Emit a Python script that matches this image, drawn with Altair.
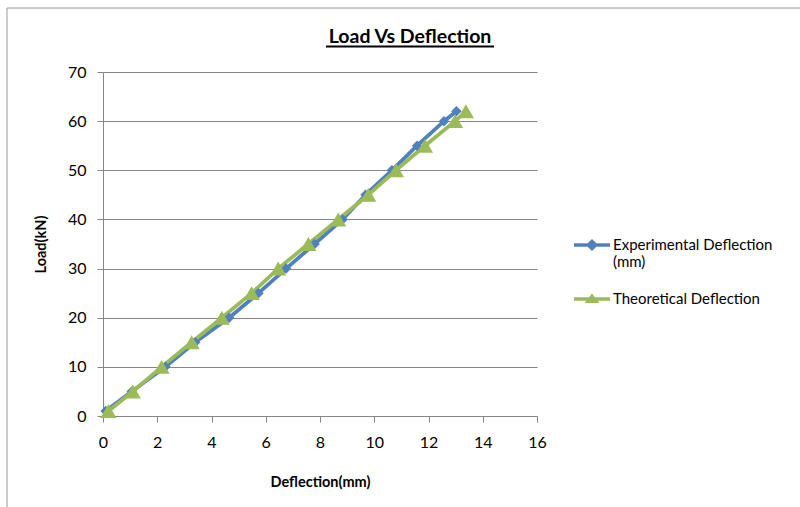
import altair as alt
import pandas as pd

# Measured load steps and the matching deflections for each series
load_kn = [1, 5, 10, 15, 20, 25, 30, 35, 40, 45, 50, 55, 60, 62]
experimental_mm = [0.1, 1.06, 2.3, 3.4, 4.65, 5.73, 6.75, 7.8, 8.83, 9.68, 10.65, 11.58, 12.57, 13.03]
theoretical_mm = [0.2, 1.1, 2.16, 3.27, 4.38, 5.48, 6.46, 7.57, 8.67, 9.78, 10.8, 11.87, 12.98, 13.38]

series_names = ["Experimental Deflection (mm)", "Theoretical Deflection"]
series_colors = ["#4F81BD", "#9BBB59"]
x_ticks = [0, 2, 4, 6, 8, 10, 12, 14, 16]
y_ticks = [0, 10, 20, 30, 40, 50, 60, 70]
chart_title = "Load Vs Deflection"

FONT = "Lato"
GRID = "#868686"

rows = []
for name, defl in zip(series_names, [experimental_mm, theoretical_mm]):
    for i, (d, p) in enumerate(zip(defl, load_kn)):
        rows.append({"series": name, "deflection": d, "load": p, "step": i})
df = pd.DataFrame(rows)

color_scale = alt.Scale(domain=series_names, range=series_colors)

x_enc = alt.X(
    "deflection:Q",
    scale=alt.Scale(domain=[0, 16], nice=False),
    axis=alt.Axis(
        values=x_ticks, grid=False, title="Deflection(mm)",
        labelPadding=12, titlePadding=25, labelFlush=False,
    ),
)
y_enc = alt.Y(
    "load:Q",
    scale=alt.Scale(domain=[0, 70], nice=False),
    axis=alt.Axis(
        values=y_ticks, grid=True, title="Load(kN)",
        labelPadding=11, titlePadding=19, labelFlush=False,
    ),
)

base = alt.Chart(df)

lines = base.mark_line(strokeWidth=3.8).encode(
    x=x_enc,
    y=y_enc,
    color=alt.Color("series:N", scale=color_scale, legend=None),
    detail="series:N",
    order="step:Q",
)

points = base.mark_point(filled=True, opacity=1).encode(
    x="deflection:Q",
    y="load:Q",
    color=alt.Color("series:N", scale=color_scale, legend=None),
    shape=alt.Shape(
        "series:N",
        scale=alt.Scale(domain=series_names, range=["diamond", "triangle-up"]),
        legend=None,
    ),
    size=alt.Size(
        "series:N",
        scale=alt.Scale(domain=series_names, range=[110, 260]),
        legend=None,
    ),
)

# Legend symbols: a short line segment with the series marker on it
legend_paths = [
    "M-1,-0.1L1,-0.1L1,0.1L-1,0.1Z M0,-0.34L0.34,0L0,0.34L-0.34,0Z",
    "M-1,-0.1L1,-0.1L1,0.1L-1,0.1Z M0,-0.3L0.42,0.22L-0.42,0.22Z",
]
legend_df = pd.DataFrame({"key": series_names})
label_expr = (
    "indexof(datum.label, ' (') > 0 ? "
    "[slice(datum.label, 0, indexof(datum.label, ' (')), "
    "slice(datum.label, indexof(datum.label, ' (') + 1)] : datum.label"
)
legend_spec = alt.Legend(
    title=None,
    orient="none",
    legendX=471,
    legendY=155,
    labelExpr=label_expr,
    labelFont=FONT,
    labelFontSize=15,
    labelColor="#000000",
    labelOffset=3,
    symbolSize=1296,
    symbolOpacity=1,
    symbolStrokeWidth=0,
    rowPadding=11,
    labelLimit=300,
)
legend_layer = alt.Chart(legend_df).mark_point(filled=True, opacity=0).encode(
    color=alt.Color("key:N", scale=color_scale, legend=legend_spec),
    shape=alt.Shape(
        "key:N",
        scale=alt.Scale(domain=series_names, range=legend_paths),
        legend=legend_spec,
    ),
)

title_df = pd.DataFrame({"t": [chart_title]})
title_text = alt.Chart(title_df).mark_text(
    font=FONT, fontSize=19.5, fontWeight="bold", color="#000000",
    align="center", baseline="alphabetic",
).encode(x=alt.value(307), y=alt.value(-29), text="t:N")
title_rule = alt.Chart(title_df).mark_rule(color="#000000", strokeWidth=1.8).encode(
    x=alt.value(223), x2=alt.value(391), y=alt.value(-25.5)
)

# Outer chart frame (only its top and left edges fall inside the page)
frame = alt.Chart(title_df).mark_rect(
    fill="transparent", stroke="#9a9a9a", strokeWidth=1, clip=False
).encode(x=alt.value(-96), x2=alt.value(720), y=alt.value(-64), y2=alt.value(460))

chart = (
    alt.layer(frame, lines, points, legend_layer, title_text, title_rule)
    .resolve_scale(color="independent", shape="independent", size="independent")
    .properties(
        width=434,
        height=344,
        autosize=alt.AutoSizeParams(type="none"),
        padding={"left": 103, "top": 72, "right": 263, "bottom": 91},
        background="white",
    )
    .configure_view(stroke=None)
    .configure_axis(
        labelFont=FONT,
        labelFontSize=16,
        labelColor="#000000",
        titleFont=FONT,
        titleFontSize=14.5,
        titleFontWeight="bold",
        titleColor="#000000",
        domainColor=GRID,
        domainWidth=1,
        tickColor=GRID,
        tickWidth=1,
        tickSize=6,
        gridColor=GRID,
        gridWidth=1,
    )
)

chart.save("out.html", embed_options={"renderer": "svg", "actions": False})
